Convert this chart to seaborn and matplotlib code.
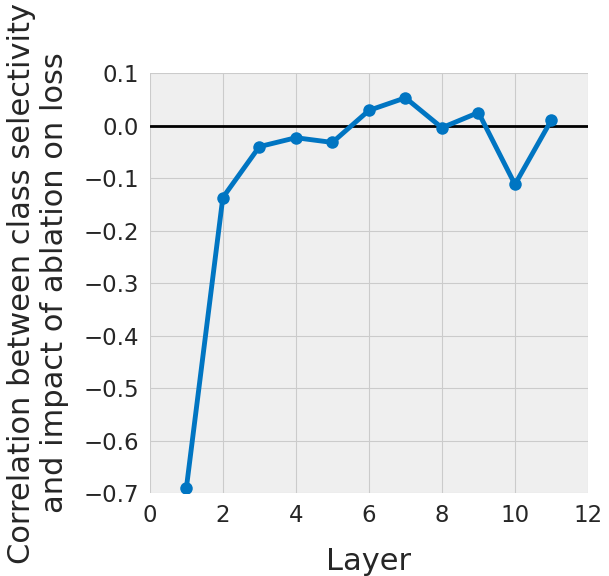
import numpy as np
import pandas as pd
import matplotlib
matplotlib.use('Agg')
import matplotlib.pyplot as plt
import seaborn as sns

# values
layers = [1, 2, 3, 4, 5, 6, 7, 8, 9, 10, 11]
corr = [-0.691, -0.137, -0.040, -0.023, -0.032, 0.029, 0.053, -0.004, 0.025, -0.112, 0.011]
yticks = [-0.7, -0.6, -0.5, -0.4, -0.3, -0.2, -0.1, 0.0, 0.1]
ytick_labels = ['\u22120.7', '\u22120.6', '\u22120.5', '\u22120.4', '\u22120.3',
                '\u22120.2', '\u22120.1', '0.0', '0.1']

df = pd.DataFrame({'Layer': layers, 'corr': corr})

sns.set_style('whitegrid', {'axes.facecolor': '#efefef', 'grid.color': '#cbcbcb',
                            'axes.edgecolor': '#efefef'})
plt.rcParams['font.family'] = ['DejaVu Sans']

fig = plt.figure(figsize=(6.09, 5.76), dpi=100)
ax = fig.add_axes([0.246, 0.144, 0.7195, 0.729])

ax.axhline(0, color='black', linewidth=2, zorder=2)
sns.lineplot(data=df, x='Layer', y='corr', ax=ax, color='#0075c2', linewidth=3.5,
             marker='o', markersize=9, markeredgewidth=0, zorder=3)

ax.set_xlim(0, 12)
ax.set_ylim(-0.7, 0.1)
ax.set_xticks(np.arange(0, 13, 2))
ax.set_yticks(yticks)
ax.set_yticklabels(ytick_labels)
ax.tick_params(labelsize=16.5, colors='#262626', length=0, pad=8)
ax.set_xlabel('Layer', fontsize=22, color='#262626', labelpad=14)
ax.set_ylabel('Correlation between class selectivity\nand impact of ablation on loss',
              fontsize=22, color='#262626', labelpad=10)
for s in ax.spines.values():
    s.set_visible(False)

fig.savefig('out.png', dpi=100)
